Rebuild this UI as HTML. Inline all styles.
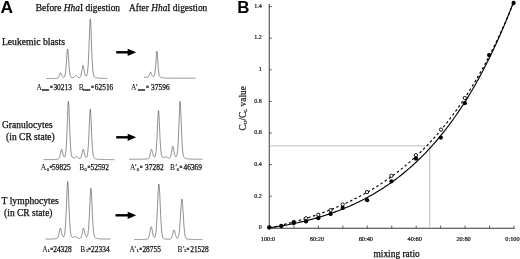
<!DOCTYPE html>
<html><head><meta charset="utf-8"><title>Figure</title>
<style>html,body{margin:0;padding:0;background:#fff}body{width:520px;height:259px;overflow:hidden}</style></head>
<body>
<svg width="520" height="259" viewBox="0 0 520 259" style="display:block">
<rect width="520" height="259" fill="#fff"/>
<g font-family="'Liberation Sans', sans-serif" font-weight="bold" font-size="16.5px" fill="#000">
<text x="0.6" y="13" textLength="12.5" lengthAdjust="spacingAndGlyphs">A</text><text x="237.2" y="13.2" textLength="12.2" lengthAdjust="spacingAndGlyphs">B</text></g>
<g font-family="'Liberation Serif', serif" font-size="9.3px" fill="#111" stroke="#111" stroke-width="0.25">
<text x="35.8" y="10.7" textLength="84.3" lengthAdjust="spacingAndGlyphs">Before <tspan font-style="italic">Hha</tspan>I digestion</text>
<text x="129" y="10.7" textLength="78.3" lengthAdjust="spacingAndGlyphs">After <tspan font-style="italic">Hha</tspan>I digestion</text>
<text x="1.9" y="45.2" textLength="63" lengthAdjust="spacingAndGlyphs">Leukemic blasts</text>
<text x="2.0" y="128.2" textLength="50.6" lengthAdjust="spacingAndGlyphs">Granulocytes</text>
<text x="6.1" y="140.4" textLength="48.6" lengthAdjust="spacingAndGlyphs">(in CR state)</text>
<text x="1.6" y="203.8" textLength="57.2" lengthAdjust="spacingAndGlyphs">T lymphocytes</text>
<text x="4.1" y="215.8" textLength="48.4" lengthAdjust="spacingAndGlyphs">(in CR state)</text>
<text x="373.5" y="256.6" textLength="46.2" lengthAdjust="spacingAndGlyphs">mixing ratio</text>
</g>
<g font-family="'Liberation Serif', serif" font-size="7.4px" fill="#111" stroke="#111" stroke-width="0.15">
<text x="36.5" y="90.2" stroke-width="0.05">A</text><text x="41.9" y="90.8" font-size="4.2px" stroke-width="0.22">max</text><text x="50.0" y="90.2" textLength="2.9" lengthAdjust="spacingAndGlyphs" stroke-width="0.3">=</text><text x="71.9" y="90.2" text-anchor="end" stroke-width="0.25">30213</text>
<text x="78.8" y="90.2" stroke-width="0.05">B</text><text x="83.2" y="90.8" font-size="4.2px" stroke-width="0.22">max</text><text x="91.0" y="90.2" textLength="2.9" lengthAdjust="spacingAndGlyphs" stroke-width="0.3">=</text><text x="113.3" y="90.2" text-anchor="end" stroke-width="0.25">62516</text>
<text x="131.0" y="90.2" stroke-width="0.05">A’</text><text x="137.9" y="90.8" font-size="4.2px" stroke-width="0.22">max</text><text x="146.0" y="90.2" textLength="2.9" lengthAdjust="spacingAndGlyphs" stroke-width="0.3">=</text><text x="169.6" y="90.2" text-anchor="end" stroke-width="0.25">37596</text>
<text x="40.8" y="170.1" stroke-width="0.05">A</text><text x="46.7" y="170.7" font-size="3.3px" stroke-width="0.22">G</text><text x="49.6" y="170.1" textLength="2.9" lengthAdjust="spacingAndGlyphs" stroke-width="0.3">=</text><text x="70.6" y="170.1" text-anchor="end" stroke-width="0.25">59825</text>
<text x="79.2" y="170.1" stroke-width="0.05">B</text><text x="84.5" y="170.7" font-size="3.3px" stroke-width="0.22">G</text><text x="87.4" y="170.1" textLength="2.9" lengthAdjust="spacingAndGlyphs" stroke-width="0.3">=</text><text x="109.0" y="170.1" text-anchor="end" stroke-width="0.25">52592</text>
<text x="130.1" y="170.1" stroke-width="0.05">A’</text><text x="136.7" y="170.7" font-size="3.3px" stroke-width="0.22">G</text><text x="139.8" y="170.1" textLength="2.9" lengthAdjust="spacingAndGlyphs" stroke-width="0.3">=</text><text x="163.6" y="170.1" text-anchor="end" stroke-width="0.25">37282</text>
<text x="170.1" y="170.1" stroke-width="0.05">B’</text><text x="176.8" y="170.7" font-size="3.3px" stroke-width="0.22">G</text><text x="179.6" y="170.1" textLength="2.9" lengthAdjust="spacingAndGlyphs" stroke-width="0.3">=</text><text x="202.0" y="170.1" text-anchor="end" stroke-width="0.25">46369</text>
<text x="42.2" y="251.8" stroke-width="0.05">A</text><text x="47.9" y="252.4" font-size="3.3px" stroke-width="0.22">L</text><text x="50.3" y="251.8" textLength="2.9" lengthAdjust="spacingAndGlyphs" stroke-width="0.3">=</text><text x="71.7" y="251.8" text-anchor="end" stroke-width="0.25">24328</text>
<text x="80.3" y="251.8" stroke-width="0.05">B</text><text x="86.4" y="252.4" font-size="3.3px" stroke-width="0.22">L</text><text x="88.1" y="251.8" textLength="2.9" lengthAdjust="spacingAndGlyphs" stroke-width="0.3">=</text><text x="109.6" y="251.8" text-anchor="end" stroke-width="0.25">22334</text>
<text x="129.5" y="251.8" stroke-width="0.05">A’</text><text x="136.8" y="252.4" font-size="3.3px" stroke-width="0.22">L</text><text x="139.2" y="251.8" textLength="2.9" lengthAdjust="spacingAndGlyphs" stroke-width="0.3">=</text><text x="160.9" y="251.8" text-anchor="end" stroke-width="0.25">28755</text>
<text x="177.6" y="251.8" stroke-width="0.05">B’</text><text x="184.4" y="252.4" font-size="3.3px" stroke-width="0.22">L</text><text x="186.5" y="251.8" textLength="2.9" lengthAdjust="spacingAndGlyphs" stroke-width="0.3">=</text><text x="208.7" y="251.8" text-anchor="end" stroke-width="0.25">21528</text>
</g>
<g fill="none" stroke="#4a4a4a" stroke-width="0.62" stroke-linejoin="round">
<path d="M46.00,78.54 L46.25,78.54 L46.50,78.54 L46.75,78.54 L47.00,78.53 L47.25,78.53 L47.50,78.53 L47.75,78.53 L48.00,78.53 L48.25,78.53 L48.50,78.52 L48.75,78.52 L49.00,78.52 L49.25,78.52 L49.50,78.52 L49.75,78.51 L50.00,78.51 L50.25,78.51 L50.50,78.50 L50.75,78.50 L51.00,78.50 L51.25,78.50 L51.50,78.49 L51.75,78.49 L52.00,78.48 L52.25,78.48 L52.50,78.48 L52.75,78.47 L53.00,78.47 L53.25,78.46 L53.50,78.45 L53.75,78.45 L54.00,78.44 L54.25,78.43 L54.50,78.43 L54.75,78.42 L55.00,78.41 L55.25,78.40 L55.50,78.38 L55.75,78.37 L56.00,78.35 L56.25,78.33 L56.50,78.31 L56.75,78.27 L57.00,78.22 L57.25,78.16 L57.50,78.06 L57.75,77.92 L58.00,77.73 L58.25,77.46 L58.50,77.11 L58.75,76.66 L59.00,76.12 L59.25,75.49 L59.50,74.80 L59.75,74.10 L60.00,73.46 L60.25,72.98 L60.50,72.80 L60.75,72.95 L61.00,73.39 L61.25,73.99 L61.50,74.65 L61.75,75.29 L62.00,75.88 L62.25,76.37 L62.50,76.77 L62.75,77.06 L63.00,77.26 L63.25,77.37 L63.50,77.40 L63.75,77.35 L64.00,77.22 L64.25,76.99 L64.50,76.61 L64.75,76.02 L65.00,75.17 L65.25,73.96 L65.50,72.31 L65.75,70.18 L66.00,67.53 L66.25,64.40 L66.50,60.90 L66.75,57.22 L67.00,53.68 L67.25,50.79 L67.50,49.20 L67.75,49.38 L68.00,51.28 L68.25,54.35 L68.50,57.95 L68.75,61.62 L69.00,65.06 L69.25,68.10 L69.50,70.64 L69.75,72.68 L70.00,74.23 L70.25,75.37 L70.50,76.17 L70.75,76.72 L71.00,77.09 L71.25,77.33 L71.50,77.48 L71.75,77.58 L72.00,77.63 L72.25,77.66 L72.50,77.65 L72.75,77.61 L73.00,77.55 L73.25,77.44 L73.50,77.30 L73.75,77.13 L74.00,76.92 L74.25,76.67 L74.50,76.41 L74.75,76.13 L75.00,75.86 L75.25,75.62 L75.50,75.44 L75.75,75.36 L76.00,75.39 L76.25,75.54 L76.50,75.76 L76.75,76.02 L77.00,76.30 L77.25,76.57 L77.50,76.82 L77.75,77.05 L78.00,77.24 L78.25,77.39 L78.50,77.50 L78.75,77.58 L79.00,77.62 L79.25,77.62 L79.50,77.57 L79.75,77.46 L80.00,77.27 L80.25,76.99 L80.50,76.56 L80.75,75.97 L81.00,75.19 L81.25,74.18 L81.50,72.95 L81.75,71.54 L82.00,69.99 L82.25,68.40 L82.50,66.96 L82.75,65.89 L83.00,65.47 L83.25,65.82 L83.50,66.83 L83.75,68.21 L84.00,69.72 L84.25,71.20 L84.50,72.54 L84.75,73.68 L85.00,74.60 L85.25,75.28 L85.50,75.75 L85.75,76.03 L86.00,76.13 L86.25,76.08 L86.50,75.85 L86.75,75.42 L87.00,74.73 L87.25,73.68 L87.50,72.15 L87.75,70.02 L88.00,67.13 L88.25,63.38 L88.50,58.69 L88.75,53.10 L89.00,46.71 L89.25,39.79 L89.50,32.75 L89.75,26.27 L90.00,21.33 L90.25,19.03 L90.50,20.05 L90.75,24.07 L91.00,30.09 L91.25,37.02 L91.50,44.07 L91.75,50.72 L92.00,56.68 L92.25,61.75 L92.50,65.90 L92.75,69.15 L93.00,71.60 L93.25,73.39 L93.50,74.65 L93.75,75.54 L94.00,76.15 L94.25,76.57 L94.50,76.87 L94.75,77.09 L95.00,77.26 L95.25,77.39 L95.50,77.50 L95.75,77.60 L96.00,77.68 L96.25,77.75 L96.50,77.81 L96.75,77.87 L97.00,77.92 L97.25,77.96 L97.50,78.00 L97.75,78.04 L98.00,78.07 L98.25,78.10 L98.50,78.13 L98.75,78.16 L99.00,78.18 L99.25,78.20 L99.50,78.22 L99.75,78.24 L100.00,78.26 L100.25,78.27 L100.50,78.29 L100.75,78.30 L101.00,78.31 L101.25,78.33 L101.50,78.34 L101.75,78.35 L102.00,78.36 L102.25,78.37 L102.50,78.38 L102.75,78.38 L103.00,78.39 L103.25,78.40 L103.50,78.41 L103.75,78.41 L104.00,78.42 L104.25,78.42 L104.50,78.43 L104.75,78.44 L105.00,78.44 L105.25,78.45 L105.50,78.45 L105.75,78.45 L106.00,78.46 L106.25,78.46 L106.50,78.47 L106.75,78.47 L107.00,78.47 L107.25,78.48 L107.50,78.48"/>
<path d="M144.00,77.31 L144.25,77.31 L144.50,77.30 L144.75,77.29 L145.00,77.29 L145.25,77.28 L145.50,77.27 L145.75,77.26 L146.00,77.25 L146.25,77.24 L146.50,77.22 L146.75,77.20 L147.00,77.18 L147.25,77.15 L147.50,77.10 L147.75,77.03 L148.00,76.92 L148.25,76.75 L148.50,76.50 L148.75,76.14 L149.00,75.66 L149.25,75.05 L149.50,74.34 L149.75,73.57 L150.00,72.82 L150.25,72.23 L150.50,72.00 L150.75,72.20 L151.00,72.76 L151.25,73.47 L151.50,74.21 L151.75,74.89 L152.00,75.45 L152.25,75.89 L152.50,76.20 L152.75,76.40 L153.00,76.50 L153.25,76.52 L153.50,76.48 L153.75,76.35 L154.00,76.13 L154.25,75.74 L154.50,75.11 L154.75,74.14 L155.00,72.70 L155.25,70.68 L155.50,68.03 L155.75,64.77 L156.00,61.04 L156.25,57.16 L156.50,53.65 L156.75,51.36 L157.00,51.14 L157.25,53.10 L157.50,56.48 L157.75,60.38 L158.00,64.20 L158.25,67.61 L158.50,70.43 L158.75,72.61 L159.00,74.20 L159.25,75.31 L159.50,76.04 L159.75,76.53 L160.00,76.84 L160.25,77.06 L160.50,77.21 L160.75,77.33 L161.00,77.43 L161.25,77.51 L161.50,77.59 L161.75,77.65 L162.00,77.71 L162.25,77.75 L162.50,77.80 L162.75,77.84 L163.00,77.87 L163.25,77.90 L163.50,77.93 L163.75,77.95 L164.00,77.97 L164.25,77.99 L164.50,78.01 L164.75,78.02 L165.00,78.04 L165.25,78.05 L165.50,78.06 L165.75,78.07 L166.00,78.08 L166.25,78.09 L166.50,78.09 L166.75,78.10 L167.00,78.10 L167.25,78.11 L167.50,78.11 L167.75,78.12 L168.00,78.12 L168.25,78.13 L168.50,78.13 L168.75,78.13 L169.00,78.14 L169.25,78.14 L169.50,78.14 L169.75,78.14 L170.00,78.15 L170.25,78.15 L170.50,78.15 L170.75,78.15 L171.00,78.15 L171.25,78.15 L171.50,78.16 L171.75,78.16 L172.00,78.16 L172.25,78.16 L172.50,78.16 L172.75,78.16 L173.00,78.16 L173.25,78.17 L173.50,78.17 L173.75,78.17 L174.00,78.17 L174.25,78.17 L174.50,78.17 L174.75,78.17 L175.00,78.17 L175.25,78.17 L175.50,78.17 L175.75,78.17 L176.00,78.17 L176.25,78.17 L176.50,78.18 L176.75,78.18 L177.00,78.18 L177.25,78.18 L177.50,78.18 L177.75,78.18 L178.00,78.18 L178.25,78.18 L178.50,78.18 L178.75,78.18 L179.00,78.18 L179.25,78.18 L179.50,78.18 L179.75,78.18 L180.00,78.18 L180.25,78.18 L180.50,78.18 L180.75,78.18 L181.00,78.18 L181.25,78.18 L181.50,78.18 L181.75,78.18 L182.00,78.18 L182.25,78.19 L182.50,78.19 L182.75,78.19 L183.00,78.19 L183.25,78.19 L183.50,78.19 L183.75,78.19 L184.00,78.19 L184.25,78.19 L184.50,78.19 L184.75,78.19 L185.00,78.19 L185.25,78.19 L185.50,78.19 L185.75,78.19 L186.00,78.19 L186.25,78.19 L186.50,78.19 L186.75,78.19 L187.00,78.19 L187.25,78.19 L187.50,78.19 L187.75,78.19 L188.00,78.19 L188.25,78.19 L188.50,78.19 L188.75,78.19 L189.00,78.19 L189.25,78.19 L189.50,78.19 L189.75,78.19 L190.00,78.19 L190.25,78.19 L190.50,78.19 L190.75,78.19 L191.00,78.19 L191.25,78.19 L191.50,78.19 L191.75,78.19 L192.00,78.19 L192.25,78.19 L192.50,78.19 L192.75,78.19 L193.00,78.19 L193.25,78.19 L193.50,78.19 L193.75,78.19 L194.00,78.19 L194.25,78.19 L194.50,78.19 L194.75,78.19 L195.00,78.19 L195.25,78.19 L195.50,78.19"/>
<path d="M43.50,159.62 L43.75,159.62 L44.00,159.62 L44.25,159.62 L44.50,159.62 L44.75,159.62 L45.00,159.61 L45.25,159.61 L45.50,159.61 L45.75,159.61 L46.00,159.61 L46.25,159.60 L46.50,159.60 L46.75,159.60 L47.00,159.60 L47.25,159.60 L47.50,159.59 L47.75,159.59 L48.00,159.59 L48.25,159.58 L48.50,159.58 L48.75,159.58 L49.00,159.58 L49.25,159.57 L49.50,159.57 L49.75,159.56 L50.00,159.56 L50.25,159.56 L50.50,159.55 L50.75,159.55 L51.00,159.54 L51.25,159.54 L51.50,159.53 L51.75,159.53 L52.00,159.52 L52.25,159.52 L52.50,159.51 L52.75,159.50 L53.00,159.50 L53.25,159.49 L53.50,159.48 L53.75,159.47 L54.00,159.46 L54.25,159.45 L54.50,159.44 L54.75,159.43 L55.00,159.41 L55.25,159.40 L55.50,159.38 L55.75,159.37 L56.00,159.35 L56.25,159.33 L56.50,159.31 L56.75,159.28 L57.00,159.25 L57.25,159.21 L57.50,159.17 L57.75,159.11 L58.00,159.04 L58.25,158.93 L58.50,158.78 L58.75,158.57 L59.00,158.26 L59.25,157.83 L59.50,157.26 L59.75,156.53 L60.00,155.62 L60.25,154.55 L60.50,153.36 L60.75,152.10 L61.00,150.88 L61.25,149.88 L61.50,149.31 L61.75,149.33 L62.00,149.92 L62.25,150.88 L62.50,152.02 L62.75,153.17 L63.00,154.24 L63.25,155.16 L63.50,155.90 L63.75,156.44 L64.00,156.79 L64.25,156.94 L64.50,156.90 L64.75,156.64 L65.00,156.12 L65.25,155.27 L65.50,153.99 L65.75,152.15 L66.00,149.63 L66.25,146.29 L66.50,142.05 L66.75,136.90 L67.00,130.91 L67.25,124.27 L67.50,117.33 L67.75,110.64 L68.00,105.03 L68.25,101.61 L68.50,101.28 L68.75,104.14 L69.00,109.41 L69.25,115.97 L69.50,122.92 L69.75,129.66 L70.00,135.81 L70.25,141.15 L70.50,145.58 L70.75,149.11 L71.00,151.81 L71.25,153.80 L71.50,155.22 L71.75,156.21 L72.00,156.89 L72.25,157.34 L72.50,157.64 L72.75,157.84 L73.00,157.96 L73.25,158.03 L73.50,158.04 L73.75,158.02 L74.00,157.96 L74.25,157.87 L74.50,157.74 L74.75,157.58 L75.00,157.40 L75.25,157.21 L75.50,157.01 L75.75,156.82 L76.00,156.66 L76.25,156.55 L76.50,156.53 L76.75,156.58 L77.00,156.72 L77.25,156.91 L77.50,157.13 L77.75,157.37 L78.00,157.60 L78.25,157.82 L78.50,158.01 L78.75,158.18 L79.00,158.32 L79.25,158.42 L79.50,158.48 L79.75,158.49 L80.00,158.45 L80.25,158.33 L80.50,158.12 L80.75,157.79 L81.00,157.31 L81.25,156.68 L81.50,155.86 L81.75,154.88 L82.00,153.75 L82.25,152.52 L82.50,151.29 L82.75,150.20 L83.00,149.45 L83.25,149.24 L83.50,149.64 L83.75,150.50 L84.00,151.61 L84.25,152.80 L84.50,153.93 L84.75,154.95 L85.00,155.80 L85.25,156.47 L85.50,156.95 L85.75,157.26 L86.00,157.41 L86.25,157.41 L86.50,157.25 L86.75,156.91 L87.00,156.33 L87.25,155.45 L87.50,154.17 L87.75,152.36 L88.00,149.91 L88.25,146.73 L88.50,142.75 L88.75,138.01 L89.00,132.59 L89.25,126.71 L89.50,120.74 L89.75,115.24 L90.00,111.05 L90.25,109.10 L90.50,109.96 L90.75,113.38 L91.00,118.49 L91.25,124.37 L91.50,130.35 L91.75,136.00 L92.00,141.06 L92.25,145.37 L92.50,148.88 L92.75,151.64 L93.00,153.72 L93.25,155.24 L93.50,156.32 L93.75,157.07 L94.00,157.59 L94.25,157.95 L94.50,158.20 L94.75,158.39 L95.00,158.53 L95.25,158.65 L95.50,158.74 L95.75,158.82 L96.00,158.89 L96.25,158.95 L96.50,159.01 L96.75,159.05 L97.00,159.10 L97.25,159.13 L97.50,159.17 L97.75,159.20 L98.00,159.23 L98.25,159.26 L98.50,159.28 L98.75,159.30 L99.00,159.32 L99.25,159.34 L99.50,159.36 L99.75,159.37 L100.00,159.39 L100.25,159.40 L100.50,159.41 L100.75,159.43 L101.00,159.44 L101.25,159.45 L101.50,159.46 L101.75,159.47 L102.00,159.48 L102.25,159.48 L102.50,159.49 L102.75,159.50 L103.00,159.51 L103.25,159.51 L103.50,159.52 L103.75,159.52 L104.00,159.53 L104.25,159.54 L104.50,159.54 L104.75,159.55 L105.00,159.55 L105.25,159.55 L105.50,159.56 L105.75,159.56 L106.00,159.57 L106.25,159.57 L106.50,159.57 L106.75,159.58 L107.00,159.58 L107.25,159.58 L107.50,159.59 L107.75,159.59 L108.00,159.59 L108.25,159.59 L108.50,159.60 L108.75,159.60 L109.00,159.60 L109.25,159.60 L109.50,159.61 L109.75,159.61 L110.00,159.61 L110.25,159.61 L110.50,159.61 L110.75,159.62 L111.00,159.62 L111.25,159.62 L111.50,159.62 L111.75,159.62 L112.00,159.62 L112.25,159.63 L112.50,159.63 L112.75,159.63 L113.00,159.63 L113.25,159.63 L113.50,159.63 L113.75,159.63 L114.00,159.63 L114.25,159.64 L114.50,159.64"/>
<path d="M129.00,159.25 L129.25,159.25 L129.50,159.25 L129.75,159.25 L130.00,159.25 L130.25,159.25 L130.50,159.24 L130.75,159.24 L131.00,159.24 L131.25,159.24 L131.50,159.24 L131.75,159.24 L132.00,159.24 L132.25,159.24 L132.50,159.24 L132.75,159.23 L133.00,159.23 L133.25,159.23 L133.50,159.23 L133.75,159.23 L134.00,159.23 L134.25,159.23 L134.50,159.23 L134.75,159.22 L135.00,159.22 L135.25,159.22 L135.50,159.22 L135.75,159.22 L136.00,159.22 L136.25,159.21 L136.50,159.21 L136.75,159.21 L137.00,159.21 L137.25,159.20 L137.50,159.20 L137.75,159.20 L138.00,159.20 L138.25,159.20 L138.50,159.19 L138.75,159.19 L139.00,159.19 L139.25,159.18 L139.50,159.18 L139.75,159.18 L140.00,159.17 L140.25,159.17 L140.50,159.17 L140.75,159.16 L141.00,159.16 L141.25,159.15 L141.50,159.15 L141.75,159.14 L142.00,159.14 L142.25,159.13 L142.50,159.13 L142.75,159.12 L143.00,159.11 L143.25,159.11 L143.50,159.10 L143.75,159.09 L144.00,159.08 L144.25,159.07 L144.50,159.06 L144.75,159.05 L145.00,159.04 L145.25,159.03 L145.50,159.01 L145.75,159.00 L146.00,158.98 L146.25,158.96 L146.50,158.94 L146.75,158.91 L147.00,158.88 L147.25,158.85 L147.50,158.80 L147.75,158.74 L148.00,158.66 L148.25,158.55 L148.50,158.38 L148.75,158.14 L149.00,157.80 L149.25,157.34 L149.50,156.73 L149.75,155.96 L150.00,155.02 L150.25,153.93 L150.50,152.74 L150.75,151.53 L151.00,150.42 L151.25,149.60 L151.50,149.27 L151.75,149.53 L152.00,150.28 L152.25,151.32 L152.50,152.46 L152.75,153.57 L153.00,154.57 L153.25,155.42 L153.50,156.09 L153.75,156.58 L154.00,156.90 L154.25,157.05 L154.50,157.05 L154.75,156.88 L155.00,156.52 L155.25,155.92 L155.50,155.01 L155.75,153.68 L156.00,151.83 L156.25,149.34 L156.50,146.13 L156.75,142.16 L157.00,137.46 L157.25,132.14 L157.50,126.44 L157.75,120.74 L158.00,115.63 L158.25,111.96 L158.50,110.60 L158.75,111.96 L159.00,115.64 L159.25,120.75 L159.50,126.46 L159.75,132.16 L160.00,137.48 L160.25,142.19 L160.50,146.17 L160.75,149.38 L161.00,151.88 L161.25,153.74 L161.50,155.08 L161.75,156.02 L162.00,156.65 L162.25,157.06 L162.50,157.32 L162.75,157.48 L163.00,157.56 L163.25,157.58 L163.50,157.56 L163.75,157.50 L164.00,157.41 L164.25,157.31 L164.50,157.18 L164.75,157.06 L165.00,156.94 L165.25,156.84 L165.50,156.79 L165.75,156.79 L166.00,156.85 L166.25,156.96 L166.50,157.11 L166.75,157.28 L167.00,157.45 L167.25,157.61 L167.50,157.77 L167.75,157.90 L168.00,158.02 L168.25,158.11 L168.50,158.17 L168.75,158.21 L169.00,158.22 L169.25,158.18 L169.50,158.09 L169.75,157.92 L170.00,157.67 L170.25,157.28 L170.50,156.73 L170.75,155.99 L171.00,155.03 L171.25,153.85 L171.50,152.47 L171.75,150.95 L172.00,149.36 L172.25,147.87 L172.50,146.71 L172.75,146.15 L173.00,146.35 L173.25,147.25 L173.50,148.58 L173.75,150.08 L174.00,151.58 L174.25,152.96 L174.50,154.15 L174.75,155.11 L175.00,155.84 L175.25,156.36 L175.50,156.68 L175.75,156.82 L176.00,156.80 L176.25,156.62 L176.50,156.25 L176.75,155.64 L177.00,154.69 L177.25,153.31 L177.50,151.36 L177.75,148.71 L178.00,145.23 L178.25,140.85 L178.50,135.56 L178.75,129.48 L179.00,122.81 L179.25,115.93 L179.50,109.44 L179.75,104.23 L180.00,101.40 L180.25,101.74 L180.50,105.14 L180.75,110.71 L181.00,117.36 L181.25,124.25 L181.50,130.85 L181.75,136.81 L182.00,141.94 L182.25,146.16 L182.50,149.49 L182.75,152.03 L183.00,153.89 L183.25,155.22 L183.50,156.15 L183.75,156.79 L184.00,157.23 L184.25,157.54 L184.50,157.77 L184.75,157.94 L185.00,158.08 L185.25,158.19 L185.50,158.29 L185.75,158.37 L186.00,158.44 L186.25,158.50 L186.50,158.56 L186.75,158.61 L187.00,158.65 L187.25,158.69 L187.50,158.73 L187.75,158.76 L188.00,158.79 L188.25,158.82 L188.50,158.85 L188.75,158.87 L189.00,158.89 L189.25,158.91 L189.50,158.93 L189.75,158.95 L190.00,158.96 L190.25,158.98 L190.50,158.99 L190.75,159.01 L191.00,159.02 L191.25,159.03 L191.50,159.04 L191.75,159.05 L192.00,159.06 L192.25,159.07 L192.50,159.08 L192.75,159.08 L193.00,159.09 L193.25,159.10 L193.50,159.11 L193.75,159.11 L194.00,159.12 L194.25,159.12 L194.50,159.13 L194.75,159.13 L195.00,159.14 L195.25,159.14 L195.50,159.15 L195.75,159.15 L196.00,159.16 L196.25,159.16 L196.50,159.16 L196.75,159.17 L197.00,159.17 L197.25,159.17 L197.50,159.18 L197.75,159.18 L198.00,159.18 L198.25,159.19 L198.50,159.19 L198.75,159.19 L199.00,159.19 L199.25,159.20 L199.50,159.20 L199.75,159.20 L200.00,159.20 L200.25,159.21 L200.50,159.21 L200.75,159.21 L201.00,159.21 L201.25,159.21 L201.50,159.22 L201.75,159.22 L202.00,159.22 L202.25,159.22 L202.50,159.22"/>
<path d="M45.50,239.10 L45.75,239.09 L46.00,239.09 L46.25,239.09 L46.50,239.09 L46.75,239.08 L47.00,239.08 L47.25,239.08 L47.50,239.07 L47.75,239.07 L48.00,239.07 L48.25,239.06 L48.50,239.06 L48.75,239.06 L49.00,239.05 L49.25,239.05 L49.50,239.04 L49.75,239.04 L50.00,239.03 L50.25,239.03 L50.50,239.02 L50.75,239.02 L51.00,239.01 L51.25,239.00 L51.50,239.00 L51.75,238.99 L52.00,238.98 L52.25,238.97 L52.50,238.96 L52.75,238.95 L53.00,238.94 L53.25,238.93 L53.50,238.92 L53.75,238.91 L54.00,238.89 L54.25,238.88 L54.50,238.86 L54.75,238.84 L55.00,238.82 L55.25,238.79 L55.50,238.77 L55.75,238.73 L56.00,238.70 L56.25,238.65 L56.50,238.59 L56.75,238.50 L57.00,238.38 L57.25,238.21 L57.50,237.97 L57.75,237.62 L58.00,237.14 L58.25,236.49 L58.50,235.67 L58.75,234.67 L59.00,233.50 L59.25,232.20 L59.50,230.86 L59.75,229.59 L60.00,228.60 L60.25,228.12 L60.50,228.28 L60.75,229.02 L61.00,230.12 L61.25,231.37 L61.50,232.61 L61.75,233.75 L62.00,234.73 L62.25,235.52 L62.50,236.11 L62.75,236.51 L63.00,236.74 L63.25,236.81 L63.50,236.73 L63.75,236.50 L64.00,236.07 L64.25,235.40 L64.50,234.41 L64.75,233.00 L65.00,231.05 L65.25,228.46 L65.50,225.12 L65.75,220.98 L66.00,216.03 L66.25,210.35 L66.50,204.12 L66.75,197.63 L67.00,191.36 L67.25,186.00 L67.50,182.46 L67.75,181.58 L68.00,183.60 L68.25,187.99 L68.50,193.82 L68.75,200.25 L69.00,206.69 L69.25,212.73 L69.50,218.14 L69.75,222.78 L70.00,226.61 L70.25,229.64 L70.50,231.97 L70.75,233.70 L71.00,234.95 L71.25,235.82 L71.50,236.42 L71.75,236.83 L72.00,237.09 L72.25,237.26 L72.50,237.35 L72.75,237.39 L73.00,237.38 L73.25,237.33 L73.50,237.25 L73.75,237.15 L74.00,237.02 L74.25,236.88 L74.50,236.74 L74.75,236.62 L75.00,236.52 L75.25,236.48 L75.50,236.49 L75.75,236.58 L76.00,236.72 L76.25,236.89 L76.50,237.09 L76.75,237.29 L77.00,237.48 L77.25,237.66 L77.50,237.82 L77.75,237.96 L78.00,238.08 L78.25,238.18 L78.50,238.25 L78.75,238.30 L79.00,238.33 L79.25,238.35 L79.50,238.34 L79.75,238.31 L80.00,238.24 L80.25,238.14 L80.50,237.97 L80.75,237.73 L81.00,237.37 L81.25,236.87 L81.50,236.21 L81.75,235.36 L82.00,234.33 L82.25,233.14 L82.50,231.84 L82.75,230.51 L83.00,229.30 L83.25,228.40 L83.50,228.05 L83.75,228.35 L84.00,229.19 L84.25,230.35 L84.50,231.62 L84.75,232.86 L85.00,233.98 L85.25,234.93 L85.50,235.70 L85.75,236.27 L86.00,236.65 L86.25,236.87 L86.50,236.94 L86.75,236.87 L87.00,236.64 L87.25,236.24 L87.50,235.60 L87.75,234.67 L88.00,233.34 L88.25,231.51 L88.50,229.10 L88.75,226.00 L89.00,222.18 L89.25,217.66 L89.50,212.52 L89.75,206.92 L90.00,201.18 L90.25,195.72 L90.50,191.23 L90.75,188.52 L91.00,188.26 L91.25,190.53 L91.50,194.75 L91.75,200.09 L92.00,205.84 L92.25,211.51 L92.50,216.77 L92.75,221.45 L93.00,225.43 L93.25,228.69 L93.50,231.26 L93.75,233.22 L94.00,234.68 L94.25,235.73 L94.50,236.47 L94.75,237.00 L95.00,237.37 L95.25,237.63 L95.50,237.83 L95.75,237.98 L96.00,238.10 L96.25,238.19 L96.50,238.28 L96.75,238.35 L97.00,238.41 L97.25,238.47 L97.50,238.52 L97.75,238.56 L98.00,238.60 L98.25,238.64 L98.50,238.67 L98.75,238.70 L99.00,238.73 L99.25,238.75 L99.50,238.78 L99.75,238.80 L100.00,238.82 L100.25,238.83 L100.50,238.85 L100.75,238.87 L101.00,238.88 L101.25,238.90 L101.50,238.91 L101.75,238.92 L102.00,238.93 L102.25,238.94 L102.50,238.95 L102.75,238.96 L103.00,238.97 L103.25,238.98 L103.50,238.99 L103.75,238.99 L104.00,239.00 L104.25,239.01 L104.50,239.01 L104.75,239.02 L105.00,239.02 L105.25,239.03 L105.50,239.03 L105.75,239.04 L106.00,239.04 L106.25,239.05 L106.50,239.05 L106.75,239.06 L107.00,239.06 L107.25,239.06 L107.50,239.07 L107.75,239.07 L108.00,239.07 L108.25,239.08 L108.50,239.08 L108.75,239.08 L109.00,239.09 L109.25,239.09 L109.50,239.09 L109.75,239.09 L110.00,239.10 L110.25,239.10 L110.50,239.10"/>
<path d="M134.20,239.54 L134.45,239.54 L134.70,239.54 L134.95,239.54 L135.20,239.54 L135.45,239.54 L135.70,239.54 L135.95,239.53 L136.20,239.53 L136.45,239.53 L136.70,239.53 L136.95,239.53 L137.20,239.53 L137.45,239.52 L137.70,239.52 L137.95,239.52 L138.20,239.52 L138.45,239.52 L138.70,239.51 L138.95,239.51 L139.20,239.51 L139.45,239.51 L139.70,239.50 L139.95,239.50 L140.20,239.50 L140.45,239.49 L140.70,239.49 L140.95,239.49 L141.20,239.48 L141.45,239.48 L141.70,239.47 L141.95,239.47 L142.20,239.47 L142.45,239.46 L142.70,239.45 L142.95,239.45 L143.20,239.44 L143.45,239.44 L143.70,239.43 L143.95,239.42 L144.20,239.41 L144.45,239.40 L144.70,239.39 L144.95,239.38 L145.20,239.37 L145.45,239.36 L145.70,239.34 L145.95,239.32 L146.20,239.30 L146.45,239.28 L146.70,239.24 L146.95,239.19 L147.20,239.12 L147.45,239.02 L147.70,238.87 L147.95,238.65 L148.20,238.33 L148.45,237.90 L148.70,237.31 L148.95,236.55 L149.20,235.60 L149.45,234.46 L149.70,233.17 L149.95,231.78 L150.20,230.35 L150.45,228.99 L150.70,227.83 L150.95,227.04 L151.20,226.74 L151.45,226.99 L151.70,227.74 L151.95,228.85 L152.20,230.16 L152.45,231.54 L152.70,232.89 L152.95,234.12 L153.20,235.18 L153.45,236.05 L153.70,236.71 L153.95,237.17 L154.20,237.43 L154.45,237.49 L154.70,237.35 L154.95,236.99 L155.20,236.35 L155.45,235.38 L155.70,234.00 L155.95,232.13 L156.20,229.66 L156.45,226.54 L156.70,222.73 L156.95,218.24 L157.20,213.17 L157.45,207.66 L157.70,201.95 L157.95,196.36 L158.20,191.28 L158.45,187.21 L158.70,184.65 L158.95,184.04 L159.20,185.47 L159.45,188.70 L159.70,193.24 L159.95,198.58 L160.20,204.27 L160.45,209.94 L160.70,215.31 L160.95,220.17 L161.20,224.41 L161.45,227.95 L161.70,230.82 L161.95,233.07 L162.20,234.77 L162.45,236.02 L162.70,236.92 L162.95,237.55 L163.20,237.99 L163.45,238.29 L163.70,238.50 L163.95,238.65 L164.20,238.75 L164.45,238.83 L164.70,238.89 L164.95,238.94 L165.20,238.98 L165.45,239.02 L165.70,239.05 L165.95,239.07 L166.20,239.09 L166.45,239.11 L166.70,239.13 L166.95,239.15 L167.20,239.16 L167.45,239.17 L167.70,239.18 L167.95,239.18 L168.20,239.19 L168.45,239.19 L168.70,239.19 L168.95,239.18 L169.20,239.17 L169.45,239.16 L169.70,239.13 L169.95,239.09 L170.20,239.03 L170.45,238.94 L170.70,238.79 L170.95,238.58 L171.20,238.28 L171.45,237.87 L171.70,237.34 L171.95,236.67 L172.20,235.86 L172.45,234.92 L172.70,233.90 L172.95,232.84 L173.20,231.82 L173.45,230.92 L173.70,230.27 L173.95,229.97 L174.20,230.09 L174.45,230.59 L174.70,231.37 L174.95,232.33 L175.20,233.36 L175.45,234.38 L175.70,235.32 L175.95,236.15 L176.20,236.84 L176.45,237.37 L176.70,237.77 L176.95,238.02 L177.20,238.14 L177.45,238.14 L177.70,238.00 L177.95,237.70 L178.20,237.22 L178.45,236.51 L178.70,235.50 L178.95,234.12 L179.20,232.32 L179.45,230.04 L179.70,227.26 L179.95,223.99 L180.20,220.29 L180.45,216.27 L180.70,212.11 L180.95,208.03 L181.20,204.32 L181.45,201.35 L181.70,199.49 L181.95,199.04 L182.20,200.09 L182.45,202.45 L182.70,205.76 L182.95,209.66 L183.20,213.82 L183.45,217.96 L183.70,221.88 L183.95,225.43 L184.20,228.52 L184.45,231.11 L184.70,233.20 L184.95,234.84 L185.20,236.09 L185.45,237.00 L185.70,237.66 L185.95,238.12 L186.20,238.45 L186.45,238.67 L186.70,238.82 L186.95,238.93 L187.20,239.01 L187.45,239.07 L187.70,239.12 L187.95,239.16 L188.20,239.19 L188.45,239.22 L188.70,239.24 L188.95,239.26 L189.20,239.28 L189.45,239.30 L189.70,239.32 L189.95,239.33 L190.20,239.35 L190.45,239.36 L190.70,239.37 L190.95,239.38 L191.20,239.39 L191.45,239.40 L191.70,239.41 L191.95,239.42 L192.20,239.43 L192.45,239.44 L192.70,239.44 L192.95,239.45 L193.20,239.45 L193.45,239.46 L193.70,239.46 L193.95,239.47 L194.20,239.47 L194.45,239.48 L194.70,239.48 L194.95,239.49 L195.20,239.49 L195.45,239.49 L195.70,239.50 L195.95,239.50 L196.20,239.50 L196.45,239.51 L196.70,239.51 L196.95,239.51 L197.20,239.51 L197.45,239.52 L197.70,239.52 L197.95,239.52 L198.20,239.52 L198.45,239.52 L198.70,239.53 L198.95,239.53 L199.20,239.53 L199.45,239.53 L199.70,239.53 L199.95,239.53 L200.20,239.54 L200.45,239.54 L200.70,239.54 L200.95,239.54 L201.20,239.54 L201.45,239.54 L201.70,239.54 L201.95,239.55 L202.20,239.55 L202.45,239.55"/>
</g>
<rect x="116.2" y="51.099999999999994" width="12.499999999999986" height="2.4" fill="#000"/><path d="M127.69999999999999,48.699999999999996 L136.2,52.3 L127.69999999999999,55.9 Z" fill="#000"/>
<rect x="116.2" y="136.10000000000002" width="12.499999999999986" height="2.4" fill="#000"/><path d="M127.69999999999999,133.70000000000002 L136.2,137.3 L127.69999999999999,140.9 Z" fill="#000"/>
<rect x="115.5" y="214.10000000000002" width="13.199999999999989" height="2.4" fill="#000"/><path d="M127.69999999999999,211.70000000000002 L136.2,215.3 L127.69999999999999,218.9 Z" fill="#000"/>
<g stroke="#222" stroke-width="0.9" fill="none">
<path d="M269.25,4 V228.25 H514.5"/>
<path d="M269.25,196.20 h2.7" stroke-width="0.7"/>
<path d="M269.25,164.60 h2.7" stroke-width="0.7"/>
<path d="M269.25,133.00 h2.7" stroke-width="0.7"/>
<path d="M269.25,101.40 h2.7" stroke-width="0.7"/>
<path d="M269.25,69.80 h2.7" stroke-width="0.7"/>
<path d="M269.25,38.20 h2.7" stroke-width="0.7"/>
<path d="M269.25,6.60 h2.7" stroke-width="0.7"/>
<path d="M293.95,228.25 v-2.7" stroke-width="0.7"/>
<path d="M318.40,228.25 v-2.7" stroke-width="0.7"/>
<path d="M342.85,228.25 v-2.7" stroke-width="0.7"/>
<path d="M367.30,228.25 v-2.7" stroke-width="0.7"/>
<path d="M391.75,228.25 v-2.7" stroke-width="0.7"/>
<path d="M416.20,228.25 v-2.7" stroke-width="0.7"/>
<path d="M440.65,228.25 v-2.7" stroke-width="0.7"/>
<path d="M465.10,228.25 v-2.7" stroke-width="0.7"/>
<path d="M489.55,228.25 v-2.7" stroke-width="0.7"/>
<path d="M514.00,228.25 v-2.7" stroke-width="0.7"/>
</g>
<path d="M269.5,145.8 H429.8 V228" stroke="#b8b8b8" stroke-width="0.9" fill="none"/>
<g font-family="'Liberation Serif', serif" font-size="6px" fill="#111" stroke="#111" stroke-width="0.2">
<text x="261.7" y="229.40" text-anchor="end">0</text>
<text x="261.7" y="197.70" text-anchor="end">0.2</text>
<text x="261.7" y="166.00" text-anchor="end">0.4</text>
<text x="261.7" y="134.30" text-anchor="end">0.6</text>
<text x="261.7" y="102.60" text-anchor="end">0.8</text>
<text x="261.7" y="70.90" text-anchor="end">1</text>
<text x="261.7" y="39.20" text-anchor="end">1.2</text>
<text x="261.7" y="7.50" text-anchor="end">1.4</text>
<text x="268.00" y="240.5" text-anchor="middle" textLength="14.3" lengthAdjust="spacingAndGlyphs">100:0</text>
<text x="316.90" y="240.5" text-anchor="middle" textLength="14.3" lengthAdjust="spacingAndGlyphs">80:20</text>
<text x="365.80" y="240.5" text-anchor="middle" textLength="14.3" lengthAdjust="spacingAndGlyphs">60:40</text>
<text x="414.70" y="240.5" text-anchor="middle" textLength="14.3" lengthAdjust="spacingAndGlyphs">40:60</text>
<text x="463.60" y="240.5" text-anchor="middle" textLength="14.3" lengthAdjust="spacingAndGlyphs">20:80</text>
<text x="512.50" y="240.5" text-anchor="middle" textLength="14.3" lengthAdjust="spacingAndGlyphs">0:100</text>
</g>
<g font-family="'Liberation Serif', serif" font-size="9.4px" fill="#111" stroke="#111" stroke-width="0.2">
<text transform="translate(245.9,130.4) rotate(-90)" textLength="44.2" lengthAdjust="spacingAndGlyphs">C<tspan font-size="5px" dy="1.5">U</tspan><tspan dy="-1.5">/C</tspan><tspan font-size="5px" dy="1.5">L</tspan><tspan dy="-1.5"> value</tspan></text>
</g>
<path d="M269.50,227.80 L270.73,227.53 L271.96,227.27 L273.19,226.99 L274.41,226.72 L275.64,226.44 L276.87,226.16 L278.10,225.87 L279.33,225.58 L280.56,225.29 L281.79,225.00 L283.02,224.70 L284.24,224.39 L285.47,224.08 L286.70,223.77 L287.93,223.46 L289.16,223.14 L290.39,222.82 L291.62,222.49 L292.84,222.16 L294.07,221.82 L295.30,221.48 L296.53,221.14 L297.76,220.79 L298.99,220.44 L300.22,220.09 L301.44,219.72 L302.67,219.36 L303.90,218.99 L305.13,218.62 L306.36,218.24 L307.59,217.85 L308.82,217.47 L310.05,217.07 L311.27,216.67 L312.50,216.27 L313.73,215.86 L314.96,215.45 L316.19,215.03 L317.42,214.61 L318.65,214.18 L319.87,213.75 L321.10,213.31 L322.33,212.86 L323.56,212.41 L324.79,211.96 L326.02,211.50 L327.25,211.03 L328.47,210.56 L329.70,210.08 L330.93,209.60 L332.16,209.10 L333.39,208.61 L334.62,208.11 L335.85,207.60 L337.08,207.08 L338.30,206.56 L339.53,206.03 L340.76,205.50 L341.99,204.96 L343.22,204.41 L344.45,203.85 L345.68,203.29 L346.90,202.72 L348.13,202.15 L349.36,201.57 L350.59,200.98 L351.82,200.38 L353.05,199.78 L354.28,199.16 L355.51,198.54 L356.73,197.92 L357.96,197.28 L359.19,196.64 L360.42,195.99 L361.65,195.33 L362.88,194.66 L364.11,193.99 L365.33,193.31 L366.56,192.61 L367.79,191.91 L369.02,191.20 L370.25,190.49 L371.48,189.76 L372.71,189.02 L373.93,188.28 L375.16,187.52 L376.39,186.76 L377.62,185.99 L378.85,185.21 L380.08,184.41 L381.31,183.61 L382.54,182.80 L383.76,181.98 L384.99,181.15 L386.22,180.30 L387.45,179.45 L388.68,178.59 L389.91,177.71 L391.14,176.83 L392.36,175.93 L393.59,175.03 L394.82,174.11 L396.05,173.18 L397.28,172.24 L398.51,171.29 L399.74,170.32 L400.96,169.35 L402.19,168.36 L403.42,167.36 L404.65,166.34 L405.88,165.32 L407.11,164.28 L408.34,163.23 L409.57,162.17 L410.79,161.09 L412.02,160.00 L413.25,158.90 L414.48,157.78 L415.71,156.65 L416.94,155.50 L418.17,154.34 L419.39,153.17 L420.62,151.98 L421.85,150.78 L423.08,149.56 L424.31,148.33 L425.54,147.08 L426.77,145.81 L427.99,144.53 L429.22,143.24 L430.45,141.93 L431.68,140.60 L432.91,139.26 L434.14,137.90 L435.37,136.52 L436.60,135.13 L437.82,133.71 L439.05,132.28 L440.28,130.84 L441.51,129.37 L442.74,127.89 L443.97,126.39 L445.20,124.87 L446.42,123.33 L447.65,121.77 L448.88,120.20 L450.11,118.60 L451.34,116.99 L452.57,115.35 L453.80,113.69 L455.03,112.02 L456.25,110.32 L457.48,108.60 L458.71,106.86 L459.94,105.10 L461.17,103.32 L462.40,101.51 L463.63,99.69 L464.85,97.84 L466.08,95.96 L467.31,94.07 L468.54,92.15 L469.77,90.21 L471.00,88.24 L472.23,86.25 L473.45,84.23 L474.68,82.19 L475.91,80.12 L477.14,78.03 L478.37,75.91 L479.60,73.77 L480.83,71.60 L482.06,69.40 L483.28,67.18 L484.51,64.93 L485.74,62.65 L486.97,60.34 L488.20,58.00 L489.43,55.64 L490.66,53.24 L491.88,50.82 L493.11,48.36 L494.34,45.88 L495.57,43.36 L496.80,40.82 L498.03,38.24 L499.26,35.63 L500.48,32.99 L501.71,30.31 L502.94,27.60 L504.17,24.86 L505.40,22.09 L506.63,19.28 L507.86,16.43 L509.09,13.55 L510.31,10.64 L511.54,7.69 L512.77,4.70 L514.00,1.67" stroke="#000" stroke-width="1.15" fill="none" stroke-dasharray="2.5,2.5"/>
<path d="M269.50,227.80 L270.73,227.62 L271.96,227.44 L273.19,227.26 L274.41,227.07 L275.64,226.88 L276.87,226.69 L278.10,226.49 L279.33,226.28 L280.56,226.08 L281.79,225.86 L283.02,225.65 L284.24,225.43 L285.47,225.21 L286.70,224.98 L287.93,224.74 L289.16,224.51 L290.39,224.27 L291.62,224.02 L292.84,223.77 L294.07,223.51 L295.30,223.26 L296.53,222.99 L297.76,222.72 L298.99,222.45 L300.22,222.17 L301.44,221.88 L302.67,221.60 L303.90,221.30 L305.13,221.00 L306.36,220.70 L307.59,220.39 L308.82,220.07 L310.05,219.75 L311.27,219.43 L312.50,219.09 L313.73,218.76 L314.96,218.41 L316.19,218.07 L317.42,217.71 L318.65,217.35 L319.87,216.99 L321.10,216.61 L322.33,216.24 L323.56,215.85 L324.79,215.46 L326.02,215.06 L327.25,214.66 L328.47,214.25 L329.70,213.83 L330.93,213.41 L332.16,212.98 L333.39,212.55 L334.62,212.10 L335.85,211.65 L337.08,211.19 L338.30,210.73 L339.53,210.26 L340.76,209.78 L341.99,209.29 L343.22,208.80 L344.45,208.30 L345.68,207.79 L346.90,207.27 L348.13,206.75 L349.36,206.21 L350.59,205.67 L351.82,205.13 L353.05,204.57 L354.28,204.00 L355.51,203.43 L356.73,202.85 L357.96,202.26 L359.19,201.66 L360.42,201.05 L361.65,200.43 L362.88,199.80 L364.11,199.17 L365.33,198.52 L366.56,197.87 L367.79,197.21 L369.02,196.53 L370.25,195.85 L371.48,195.16 L372.71,194.45 L373.93,193.74 L375.16,193.02 L376.39,192.28 L377.62,191.54 L378.85,190.78 L380.08,190.02 L381.31,189.24 L382.54,188.45 L383.76,187.66 L384.99,186.85 L386.22,186.02 L387.45,185.19 L388.68,184.35 L389.91,183.49 L391.14,182.62 L392.36,181.74 L393.59,180.85 L394.82,179.95 L396.05,179.03 L397.28,178.10 L398.51,177.15 L399.74,176.20 L400.96,175.23 L402.19,174.25 L403.42,173.25 L404.65,172.24 L405.88,171.22 L407.11,170.18 L408.34,169.13 L409.57,168.06 L410.79,166.98 L412.02,165.89 L413.25,164.78 L414.48,163.65 L415.71,162.51 L416.94,161.36 L418.17,160.18 L419.39,159.00 L420.62,157.79 L421.85,156.58 L423.08,155.34 L424.31,154.09 L425.54,152.82 L426.77,151.53 L427.99,150.23 L429.22,148.91 L430.45,147.57 L431.68,146.22 L432.91,144.84 L434.14,143.45 L435.37,142.04 L436.60,140.61 L437.82,139.16 L439.05,137.70 L440.28,136.21 L441.51,134.70 L442.74,133.18 L443.97,131.63 L445.20,130.07 L446.42,128.48 L447.65,126.87 L448.88,125.24 L450.11,123.59 L451.34,121.92 L452.57,120.23 L453.80,118.51 L455.03,116.77 L456.25,115.01 L457.48,113.23 L458.71,111.42 L459.94,109.59 L461.17,107.74 L462.40,105.86 L463.63,103.96 L464.85,102.03 L466.08,100.08 L467.31,98.10 L468.54,96.10 L469.77,94.07 L471.00,92.02 L472.23,89.94 L473.45,87.83 L474.68,85.69 L475.91,83.53 L477.14,81.34 L478.37,79.12 L479.60,76.87 L480.83,74.60 L482.06,72.29 L483.28,69.96 L484.51,67.59 L485.74,65.20 L486.97,62.77 L488.20,60.32 L489.43,57.83 L490.66,55.31 L491.88,52.76 L493.11,50.18 L494.34,47.56 L495.57,44.91 L496.80,42.23 L498.03,39.51 L499.26,36.76 L500.48,33.97 L501.71,31.15 L502.94,28.29 L504.17,25.39 L505.40,22.46 L506.63,19.49 L507.86,16.49 L509.09,13.44 L510.31,10.36 L511.54,7.24 L512.77,4.08 L514.00,0.88" stroke="#000" stroke-width="1.15" fill="none"/>
<circle cx="293.7" cy="221.9" r="1.65" fill="#fff" stroke="#000" stroke-width="0.9"/>
<circle cx="306" cy="218.3" r="1.65" fill="#fff" stroke="#000" stroke-width="0.9"/>
<circle cx="318.3" cy="214.8" r="1.65" fill="#fff" stroke="#000" stroke-width="0.9"/>
<circle cx="330.6" cy="210.1" r="1.65" fill="#fff" stroke="#000" stroke-width="0.9"/>
<circle cx="342.7" cy="204.5" r="1.65" fill="#fff" stroke="#000" stroke-width="0.9"/>
<circle cx="367" cy="192.1" r="1.65" fill="#fff" stroke="#000" stroke-width="0.9"/>
<circle cx="391.4" cy="175.8" r="1.65" fill="#fff" stroke="#000" stroke-width="0.9"/>
<circle cx="415.9" cy="155.2" r="1.65" fill="#fff" stroke="#000" stroke-width="0.9"/>
<circle cx="441" cy="129.6" r="1.65" fill="#fff" stroke="#000" stroke-width="0.9"/>
<circle cx="464.8" cy="98" r="1.65" fill="#fff" stroke="#000" stroke-width="0.9"/>
<circle cx="269.2" cy="227.5" r="2.15" fill="#000"/>
<circle cx="281.4" cy="226" r="2.15" fill="#000"/>
<circle cx="293.7" cy="223" r="2.15" fill="#000"/>
<circle cx="306" cy="221.4" r="2.15" fill="#000"/>
<circle cx="318.3" cy="218.2" r="2.15" fill="#000"/>
<circle cx="330.6" cy="214" r="2.15" fill="#000"/>
<circle cx="342.7" cy="207.9" r="2.15" fill="#000"/>
<circle cx="367.1" cy="200.2" r="2.15" fill="#000"/>
<circle cx="391.5" cy="181.3" r="2.15" fill="#000"/>
<circle cx="416" cy="158.5" r="2.15" fill="#000"/>
<circle cx="440.8" cy="137.6" r="2.15" fill="#000"/>
<circle cx="464.8" cy="103.2" r="2.15" fill="#000"/>
<circle cx="489.1" cy="55.1" r="2.15" fill="#000"/>
<circle cx="513.6" cy="3" r="2.15" fill="#000"/>
</svg>
</body></html>
